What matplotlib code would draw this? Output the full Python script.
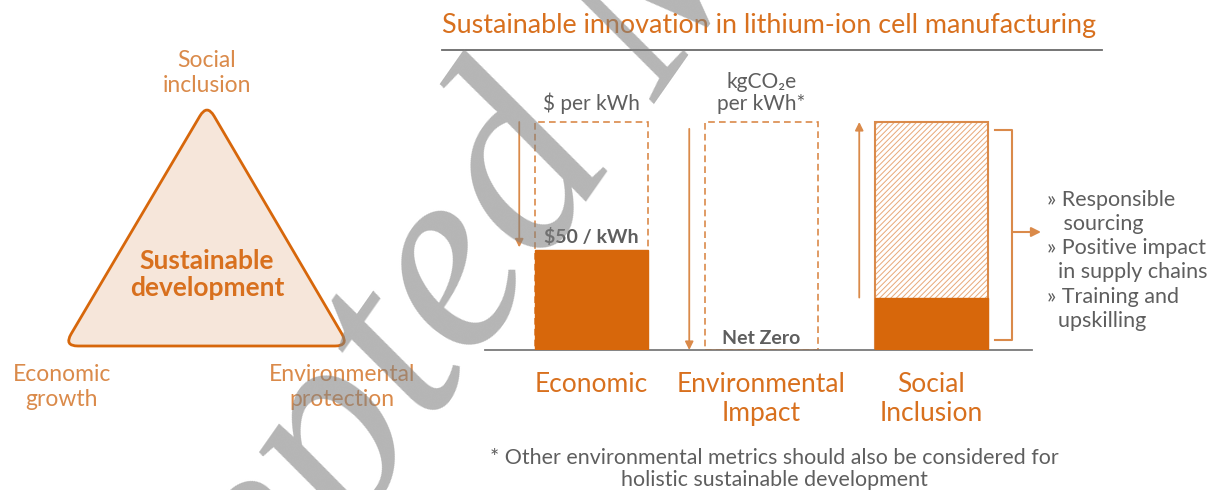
import numpy as np
import matplotlib
matplotlib.use("Agg")
import matplotlib.pyplot as plt
from matplotlib.path import Path
from matplotlib.patches import PathPatch
from matplotlib.textpath import TextPath
from matplotlib.font_manager import FontProperties
from matplotlib.transforms import IdentityTransform

plt.rcParams['font.family'] = ['Lato', 'DejaVu Sans']
plt.rcParams['hatch.linewidth'] = 0.7

ORANGE = '#D7670B'
ORANGE_TXT = '#D8701E'
ORANGE_LIGHT = '#DA8A4A'
GRAY_TXT = '#5E5E5E'

# right panel data
categories = ["Economic", "Environmental\nImpact", "Social\nInclusion"]
target = [1.0, 1.0, 1.0]
current = [0.44, 0.0, 0.23]
units = ["$ per kWh", "kgCO\u2082e\nper kWh*", ""]
value_labels = ["$50 / kWh", "Net Zero", ""]
arrow_start = [1.0, 0.97, 0.23]
arrow_end = [0.45, 0.0, 1.0]
bullets = ["\u00bb Responsible", "   sourcing", "\u00bb Positive impact",
           "  in supply chains", "\u00bb Training and", "  upskilling"]

# left panel data
corner_labels = ["Social\ninclusion", "Economic\ngrowth", "Environmental\nprotection"]
centre_label = "Sustainable\ndevelopment"

title = "Sustainable innovation in lithium-ion cell manufacturing"
footnote = "* Other environmental metrics should also be considered for\nholistic sustainable development"
watermark = "Accepted Manuscript"

W, H = 1225, 490
fig = plt.figure(figsize=(W / 100, H / 100), dpi=100)

# overlay in pixel coords
ov = fig.add_axes([0, 0, 1, 1])
ov.set_xlim(0, W)
ov.set_ylim(H, 0)
ov.axis('off')


def rounded_triangle(pts, r):
    verts, codes = [], []
    n = len(pts)
    for i in range(n):
        p = np.array(pts[i])
        prev = np.array(pts[i - 1])
        nxt = np.array(pts[(i + 1) % n])
        a = p + (prev - p) / np.linalg.norm(prev - p) * r
        b = p + (nxt - p) / np.linalg.norm(nxt - p) * r
        verts += [a, p, b]
        codes += [Path.LINETO if i else Path.MOVETO, Path.CURVE3, Path.CURVE3]
    verts.append(verts[0])
    codes.append(Path.CLOSEPOLY)
    return Path(verts, codes)


tri = rounded_triangle([(207, 104), (64, 346), (349, 346)], 14)
ov.add_patch(PathPatch(tri, facecolor='#F6E6DA', edgecolor=ORANGE, lw=2.0))
ov.text(207, 274, centre_label, ha='center', va='center', fontsize=19,
        fontweight='bold', color=ORANGE_TXT, linespacing=1.15)
ov.text(207, 73, corner_labels[0], ha='center', va='center', fontsize=16.5,
        color=ORANGE_LIGHT, linespacing=1.22)
ov.text(62, 387, corner_labels[1], ha='center', va='center', fontsize=16.5,
        color=ORANGE_LIGHT, linespacing=1.22)
ov.text(342, 387, corner_labels[2], ha='center', va='center', fontsize=16.5,
        color=ORANGE_LIGHT, linespacing=1.22)

# title + rule
ov.text(442, 25, title, ha='left', va='center', fontsize=19.4,
        color=ORANGE_TXT)
ov.plot([442, 1102], [50, 50], color='#6A6A6A', lw=1.3)

# footnote
ov.text(774, 469, footnote, ha='center', va='center', fontsize=15.4,
        color=GRAY_TXT, linespacing=1.08)

# bullets
ys = [200, 224, 248, 272, 297, 321]
for txt, y in zip(bullets, ys):
    ov.text(1047, y, txt, ha='left', va='center', fontsize=15.5,
            color=GRAY_TXT)

# bracket + arrow
ov.plot([995, 1012, 1012, 995], [130, 130, 340, 340], color=ORANGE_LIGHT, lw=1.5)
ov.annotate('', xy=(1041, 232), xytext=(1012, 232),
            arrowprops=dict(arrowstyle='-|>', color=ORANGE_LIGHT, lw=1.5,
                            mutation_scale=14, shrinkA=0, shrinkB=0))

# bar panel
left, right, base, top = 485, 1032, 350, 100
ax = fig.add_axes([left / W, (H - base) / H, (right - left) / W, (base - top) / H])
ax.patch.set_alpha(0)
x = np.arange(len(categories))
ax.set_xlim((left - 591.5) / 170, (right - 591.5) / 170)
ax.set_ylim(0, (base - top) / (base - 122))
bw = 0.665

for i in range(2):
    ax.bar(x[i], target[i], width=bw, fill=False, edgecolor=ORANGE_LIGHT,
           lw=1.2, linestyle=(0, (4, 2.5)), zorder=2)
ax.bar(x[2], target[2] - current[2], bottom=current[2], width=bw,
       color='white', edgecolor='#E8A878', hatch='//////', lw=0, zorder=2)
ax.bar(x[2], target[2], width=bw, fill=False, edgecolor=ORANGE_LIGHT, lw=1.5, zorder=2)
ax.bar(x, current, width=bw, color=ORANGE, edgecolor=ORANGE, lw=1.0, zorder=3)

for i in x:
    ax.annotate('', xy=(i - 0.425, arrow_end[i]), xytext=(i - 0.425, arrow_start[i]),
                arrowprops=dict(arrowstyle='-|>', color=ORANGE_LIGHT, lw=1.3,
                                mutation_scale=12, shrinkA=0, shrinkB=0))
    if units[i]:
        ax.text(i, target[i] + 0.035, units[i], ha='center', va='bottom',
                fontsize=15, color=GRAY_TXT, linespacing=1.1)
    if value_labels[i]:
        ax.text(i, current[i] + 0.015, value_labels[i], ha='center', va='bottom',
                fontsize=14, color=GRAY_TXT, fontweight='bold')

ax.set_xticks(x)
ax.set_xticklabels(categories, fontsize=19, color=ORANGE_TXT, linespacing=1.2)
ax.tick_params(axis='x', length=0, pad=16)
ax.set_yticks([])
for s in ['top', 'left', 'right']:
    ax.spines[s].set_visible(False)
ax.spines['bottom'].set_color('#7A7A7A')
ax.spines['bottom'].set_linewidth(1.3)

# watermark, anchored on the last "e" of "Accepted"
S = 270.0
theta = 55.0
fp = FontProperties(family='Liberation Serif', style='italic')
ext_all = TextPath((0, 0), watermark, size=S, prop=fp).get_extents()
ex = (TextPath((0, 0), "Accept", size=S, prop=fp).get_extents().x1 +
      TextPath((0, 0), "Accepte", size=S, prop=fp).get_extents().x1) / 2
dx, dy = ex - ext_all.x0, 0.23 * S
t = np.radians(theta)
ox = dx * np.cos(t) - dy * np.sin(t)
oy = dx * np.sin(t) + dy * np.cos(t)
px, py = 470 - ox, (H - 280) - oy
fig.text(px, py, watermark, transform=IdentityTransform(), fontsize=S * 0.72,
         family='Liberation Serif', style='italic', color='#808080', alpha=0.58,
         rotation=theta, rotation_mode='anchor', ha='left', va='baseline', zorder=20)

fig.savefig('out.png', dpi=100)
